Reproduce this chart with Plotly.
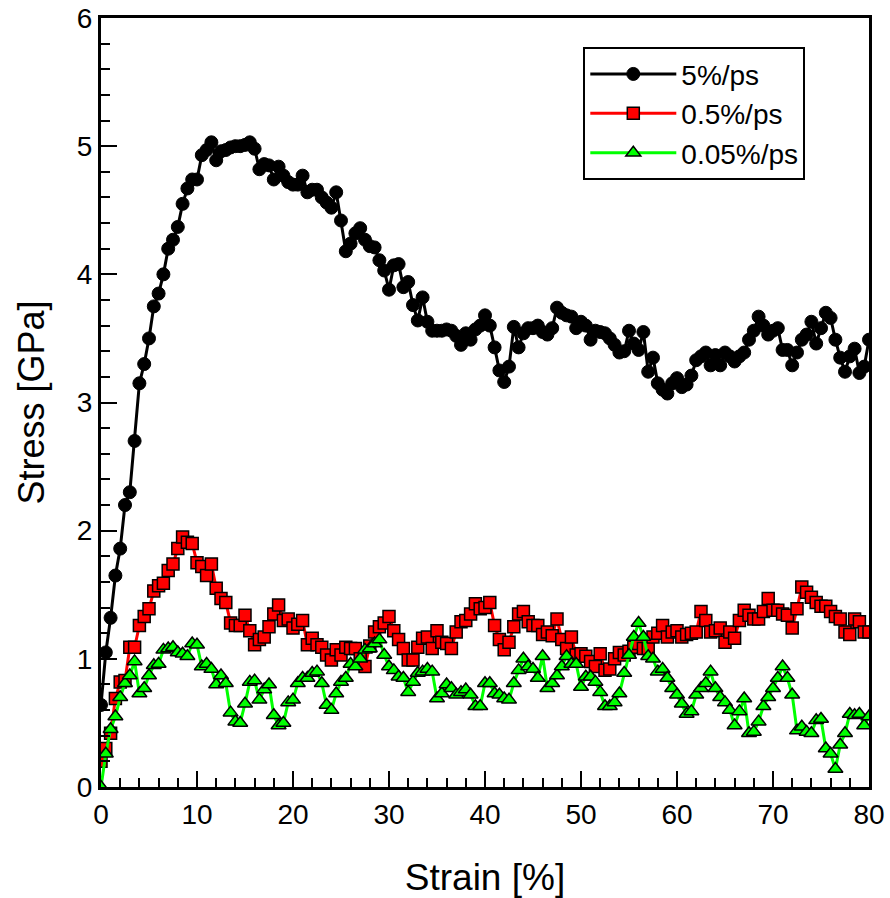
import plotly.graph_objects as go

strain = [0.0, 0.5, 1.0, 1.5, 2.0, 2.5, 3.0, 3.5, 4.0, 4.5, 5.0, 5.5, 6.0, 6.5, 7.0, 7.5, 8.0, 8.5, 9.0, 9.5,
          10.0, 10.5, 11.0, 11.5, 12.0, 12.5, 13.0, 13.5, 14.0, 14.5, 15.0, 15.5, 16.0, 16.5, 17.0, 17.5, 18.0, 18.5, 19.0, 19.5,
          20.0, 20.5, 21.0, 21.5, 22.0, 22.5, 23.0, 23.5, 24.0, 24.5, 25.0, 25.5, 26.0, 26.5, 27.0, 27.5, 28.0, 28.5, 29.0, 29.5,
          30.0, 30.5, 31.0, 31.5, 32.0, 32.5, 33.0, 33.5, 34.0, 34.5, 35.0, 35.5, 36.0, 36.5, 37.0, 37.5, 38.0, 38.5, 39.0, 39.5,
          40.0, 40.5, 41.0, 41.5, 42.0, 42.5, 43.0, 43.5, 44.0, 44.5, 45.0, 45.5, 46.0, 46.5, 47.0, 47.5, 48.0, 48.5, 49.0, 49.5,
          50.0, 50.5, 51.0, 51.5, 52.0, 52.5, 53.0, 53.5, 54.0, 54.5, 55.0, 55.5, 56.0, 56.5, 57.0, 57.5, 58.0, 58.5, 59.0, 59.5,
          60.0, 60.5, 61.0, 61.5, 62.0, 62.5, 63.0, 63.5, 64.0, 64.5, 65.0, 65.5, 66.0, 66.5, 67.0, 67.5, 68.0, 68.5, 69.0, 69.5,
          70.0, 70.5, 71.0, 71.5, 72.0, 72.5, 73.0, 73.5, 74.0, 74.5, 75.0, 75.5, 76.0, 76.5, 77.0, 77.5, 78.0, 78.5, 79.0, 79.5,
          80.0]

stress_5 = [0.64, 1.05, 1.32, 1.65, 1.86, 2.20, 2.30, 2.70, 3.15, 3.30, 3.50, 3.75, 3.85, 4.00, 4.20, 4.27, 4.37, 4.55, 4.67, 4.74,
            4.74, 4.93, 4.97, 5.03, 4.89, 4.96, 4.97, 4.99, 5.00, 5.00, 5.01, 5.03, 4.98, 4.82, 4.86, 4.85, 4.74, 4.84, 4.77, 4.72,
            4.70, 4.70, 4.77, 4.64, 4.66, 4.66, 4.60, 4.56, 4.52, 4.64, 4.42, 4.18, 4.24, 4.32, 4.36, 4.27, 4.22, 4.21, 4.11, 4.03,
            3.88, 4.07, 4.08, 3.90, 3.94, 3.76, 3.64, 3.82, 3.63, 3.56, 3.56, 3.56, 3.57, 3.56, 3.52, 3.45, 3.54, 3.49, 3.57, 3.60,
            3.68, 3.60, 3.43, 3.25, 3.16, 3.28, 3.59, 3.43, 3.54, 3.58, 3.58, 3.60, 3.55, 3.53, 3.58, 3.74, 3.70, 3.68, 3.67, 3.58,
            3.63, 3.60, 3.49, 3.56, 3.55, 3.54, 3.50, 3.45, 3.39, 3.40, 3.56, 3.46, 3.41, 3.55, 3.24, 3.35, 3.15, 3.10, 3.07, 3.15,
            3.19, 3.12, 3.14, 3.21, 3.33, 3.36, 3.39, 3.29, 3.37, 3.29, 3.39, 3.36, 3.32, 3.36, 3.39, 3.49, 3.56, 3.67, 3.60, 3.53,
            3.56, 3.58, 3.41, 3.41, 3.29, 3.39, 3.49, 3.53, 3.63, 3.46, 3.58, 3.70, 3.66, 3.49, 3.35, 3.24, 3.36, 3.42, 3.23, 3.28,
            3.49]

stress_05 = [0.20, 0.30, 0.42, 0.69, 0.82, 0.83, 1.09, 1.09, 1.26, 1.33, 1.39, 1.53, 1.57, 1.59, 1.69, 1.74, 1.86, 1.95, 1.91, 1.90,
             1.75, 1.72, 1.65, 1.74, 1.55, 1.47, 1.44, 1.28, 1.26, 1.26, 1.34, 1.22, 1.11, 1.15, 1.17, 1.25, 1.35, 1.42, 1.30, 1.31,
             1.24, 1.27, 1.30, 1.11, 1.16, 1.11, 1.09, 1.03, 0.99, 1.07, 1.03, 1.09, 1.08, 1.08, 1.00, 0.94, 1.10, 1.21, 1.25, 1.28,
             1.33, 1.22, 1.15, 1.08, 0.99, 0.99, 1.09, 1.16, 1.17, 1.08, 1.22, 1.13, 1.12, 1.08, 1.21, 1.29, 1.30, 1.35, 1.43, 1.39,
             1.40, 1.44, 1.26, 1.15, 1.07, 1.13, 1.25, 1.35, 1.37, 1.29, 1.26, 1.26, 1.19, 1.21, 1.18, 1.31, 1.15, 1.08, 1.17, 1.03,
             1.04, 1.02, 0.98, 0.94, 1.04, 0.91, 0.92, 1.00, 1.05, 1.03, 1.06, 1.09, 1.12, 1.08, 1.08, 1.17, 1.20, 1.26, 1.17, 1.21,
             1.22, 1.17, 1.19, 1.20, 1.21, 1.37, 1.30, 1.21, 1.22, 1.24, 1.13, 1.21, 1.16, 1.30, 1.38, 1.34, 1.31, 1.31, 1.37, 1.47,
             1.38, 1.38, 1.35, 1.34, 1.24, 1.39, 1.56, 1.52, 1.48, 1.44, 1.41, 1.41, 1.37, 1.33, 1.31, 1.21, 1.19, 1.31, 1.29, 1.21,
             1.21]

stress_005 = [0.00, 0.26, 0.45, 0.55, 0.70, 0.81, 0.87, 0.98, 0.73, 0.77, 0.87, 0.95, 0.96, 1.07, 1.08, 1.09, 1.05, 1.04, 1.02, 1.12,
              1.11, 0.94, 0.96, 0.92, 0.80, 0.87, 0.81, 0.58, 0.51, 0.50, 0.65, 0.82, 0.83, 0.68, 0.76, 0.80, 0.56, 0.48, 0.50, 0.66,
              0.68, 0.81, 0.85, 0.85, 0.89, 0.90, 0.81, 0.64, 0.60, 0.73, 0.82, 0.85, 0.96, 0.94, 1.00, 1.07, 1.08, 1.12, 1.15, 1.03,
              0.94, 0.91, 0.86, 0.85, 0.74, 0.82, 0.89, 0.90, 0.92, 0.90, 0.69, 0.73, 0.80, 0.77, 0.72, 0.74, 0.76, 0.72, 0.63, 0.63,
              0.81, 0.81, 0.73, 0.72, 0.69, 0.68, 0.81, 0.91, 1.00, 0.94, 0.92, 0.85, 1.02, 0.77, 0.81, 0.87, 0.94, 1.02, 0.96, 0.96,
              0.78, 0.86, 0.86, 0.82, 0.74, 0.63, 0.63, 0.66, 0.73, 0.89, 1.03, 1.17, 1.28, 1.17, 1.02, 1.00, 0.90, 0.92, 0.85, 0.77,
              0.72, 0.65, 0.57, 0.59, 0.72, 0.77, 0.81, 0.90, 0.77, 0.70, 0.66, 0.60, 0.48, 0.59, 0.69, 0.42, 0.43, 0.51, 0.63, 0.70,
              0.77, 0.85, 0.94, 0.85, 0.72, 0.44, 0.47, 0.43, 0.42, 0.52, 0.53, 0.30, 0.26, 0.14, 0.33, 0.42, 0.57, 0.56, 0.57, 0.48,
              0.55]

series_names = ["5%/ps", "0.5%/ps", "0.05%/ps"]
x_ticks = [0, 10, 20, 30, 40, 50, 60, 70, 80]
y_ticks = [0, 1, 2, 3, 4, 5, 6]

FONT = "Liberation Sans, Arial, sans-serif"

fig = go.Figure()
fig.add_trace(go.Scatter(
    x=strain, y=stress_5, name=series_names[0], mode="lines+markers",
    line=dict(color="black", width=3),
    marker=dict(symbol="circle", size=13, color="black", line=dict(color="black", width=1)),
))
fig.add_trace(go.Scatter(
    x=strain, y=stress_05, name=series_names[1], mode="lines+markers",
    line=dict(color="#ff0000", width=3),
    marker=dict(symbol="square", size=12, color="#ff0000", line=dict(color="black", width=1.5)),
))
fig.add_trace(go.Scatter(
    x=strain, y=stress_005, name=series_names[2], mode="lines+markers",
    line=dict(color="#00ff00", width=3),
    marker=dict(symbol="triangle-up", size=13, color="#00ff00", line=dict(color="black", width=1.5)),
))

axis_common = dict(
    showline=True, linecolor="black", linewidth=3, mirror=True,
    ticks="inside", ticklen=16, tickwidth=2, tickcolor="black",
    showgrid=False, zeroline=False, automargin=False,
    tickfont=dict(family=FONT, size=28, color="black"),
)

fig.update_xaxes(
    range=[0, 80], tickvals=x_ticks, ticktext=[str(v) for v in x_ticks],
    minor=dict(ticks="inside", ticklen=9, tickwidth=2, tickcolor="black", dtick=2, showgrid=False),
    title=dict(text="Strain [%]", font=dict(family=FONT, size=37, color="black"), standoff=36),
    **axis_common,
)
fig.update_yaxes(
    range=[0, 6], tickvals=y_ticks, ticktext=[str(v) for v in y_ticks],
    minor=dict(ticks="inside", ticklen=9, tickwidth=2, tickcolor="black", dtick=0.2, showgrid=False),
    title=dict(text="Stress [GPa]", font=dict(family=FONT, size=36, color="black"), standoff=22),
    **axis_common,
)

fig.update_layout(
    width=890, height=898,
    margin=dict(l=101, r=21, t=18, b=111),
    paper_bgcolor="white", plot_bgcolor="white",
    showlegend=True,
    legend=dict(
        x=0.628, y=0.962, xanchor="left", yanchor="top",
        bgcolor="white", bordercolor="black", borderwidth=2,
        font=dict(family=FONT, size=28, color="black"),
        itemwidth=86, tracegroupgap=2,
    ),
)

fig.write_html("out.html")
